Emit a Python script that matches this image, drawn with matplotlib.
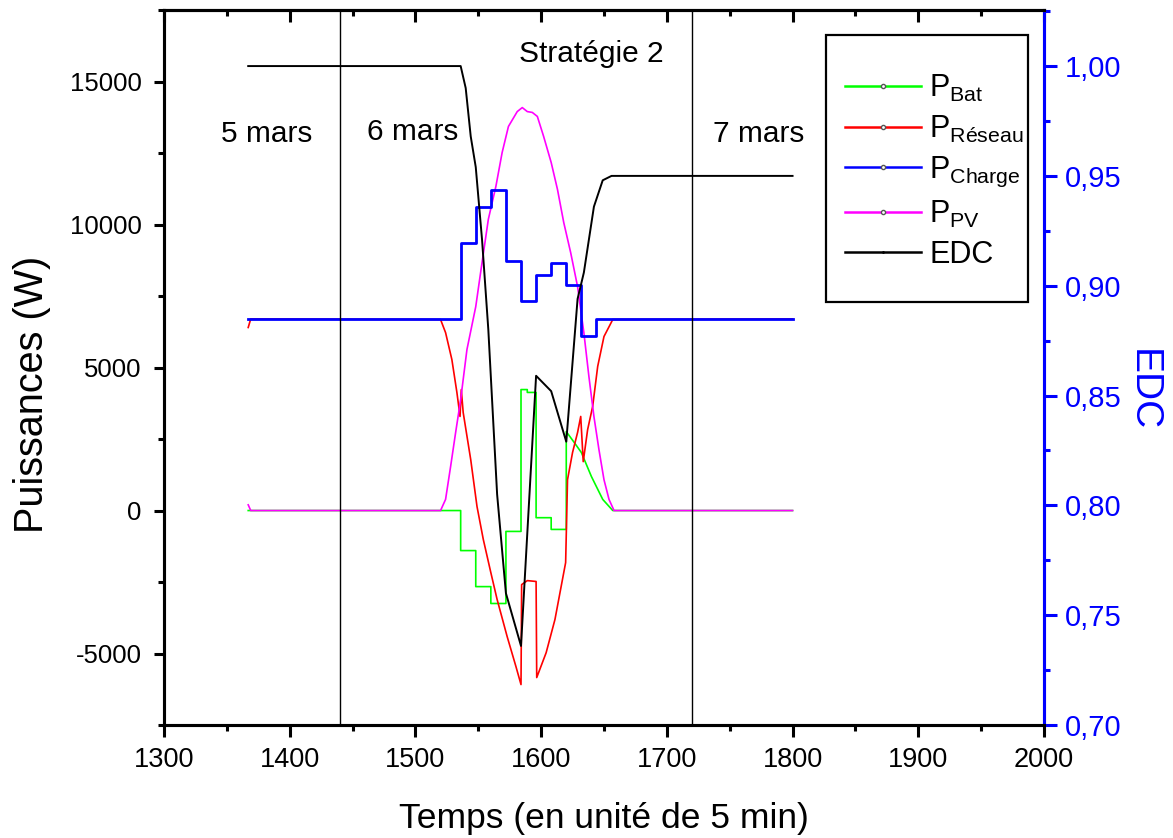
import matplotlib
matplotlib.use("Agg")
import matplotlib.pyplot as plt
from matplotlib.lines import Line2D
from matplotlib.patches import Rectangle
from matplotlib.ticker import MultipleLocator, FuncFormatter

plt.rcParams['font.family'] = ['Liberation Sans', 'DejaVu Sans']
plt.rcParams['mathtext.default'] = 'regular'
plt.rcParams['axes.unicode_minus'] = False

# P_Bat (W)
bat_t = [1367, 1536, 1536, 1548, 1548, 1560, 1560, 1572, 1572, 1584, 1584, 1589, 1589, 1596, 1596,
         1608, 1608, 1620, 1620, 1626, 1632, 1640, 1649, 1657, 1800]
bat = [0, 0, -1400, -1400, -2660, -2660, -3250, -3250, -730, -730, 4230, 4230, 4130, 4130, -250,
       -250, -660, -660, 2760, 2400, 2030, 1190, 390, 0, 0]

# P_Reseau (W)
res_t = [1367, 1369, 1520, 1524, 1529, 1533, 1535.5, 1536.5, 1538, 1544, 1549, 1554, 1560, 1565, 1573,
         1580, 1584, 1584.5, 1589, 1596, 1596.5, 1604, 1611, 1619.5, 1621, 1625, 1629, 1631.5, 1633.5,
         1637, 1641, 1645, 1650, 1657, 1800]
res = [6400, 6700, 6680, 6220, 5280, 4130, 3290, 4230, 3430, 1780, 140, -1010, -2170, -3110, -4410,
       -5460, -6085, -2590, -2450, -2480, -5840, -4970, -3810, -1820, 1080, 2030, 2730, 3290, 1710,
       2830, 3640, 5040, 6085, 6680, 6700]

# P_Charge (W), hourly steps
chg_t = [1367, 1536, 1548, 1560, 1572, 1584, 1596, 1608, 1620, 1632, 1644, 1800]
chg = [6700, 9370, 10630, 11220, 8740, 7310, 8220, 8670, 7900, 6120, 6700, 6700]

# P_PV (W)
pv_t = [1367, 1369, 1520, 1524, 1528, 1532, 1536, 1541, 1548, 1553, 1558, 1564, 1569, 1574, 1581,
        1585, 1589, 1593, 1597, 1602, 1608, 1613, 1618, 1623.5, 1629, 1634, 1638, 1642, 1646, 1650,
        1654, 1658, 1800]
pv = [200, 0, 0, 390, 1540, 2730, 3880, 5630, 7130, 8670, 10180, 11330, 12520, 13430, 13950,
      14090, 13950, 13920, 13780, 13080, 12170, 11230, 10070, 9020, 7830, 6220, 4690, 3290, 2130, 1080,
      390, 0, 0]

# EDC (right axis)
edc_t = [1367, 1536, 1540, 1544, 1548, 1553, 1558, 1565, 1572, 1584, 1596, 1608, 1620, 1629, 1634,
         1642, 1649, 1656, 1800]
edc = [1.0, 1.0, 0.99, 0.968, 0.954, 0.921, 0.88, 0.805, 0.76, 0.736, 0.859, 0.852, 0.829, 0.894, 0.906,
       0.936, 0.948, 0.95, 0.95]

days = [1440, 1720]
day_labels = ["5 mars", "6 mars", "7 mars"]

fig = plt.figure(figsize=(11.73, 8.38), dpi=100)
ax = fig.add_axes([0.1398, 0.1348, 0.7502, 0.8532])
ax2 = ax.twinx()

ax.plot(bat_t, bat, color='#00ff00', lw=1.2)
ax.plot(res_t, res, color='#ff0000', lw=1.2)
ax.plot(pv_t, pv, color='#ff00ff', lw=1.2)
ax.plot(chg_t, chg, color='#0000ff', lw=2.0, drawstyle='steps-post')
ax2.plot(edc_t, edc, color='black', lw=1.4)

for d in days:
    ax.axvline(d, color='black', lw=1.0)

ax.text(1382, 13150, day_labels[0], fontsize=21.5, ha='center', va='center')
ax.text(1498, 13250, day_labels[1], fontsize=21.5, ha='center', va='center')
ax.text(1773, 13150, day_labels[2], fontsize=21.5, ha='center', va='center')
ax.text(1640, 15950, "Stratégie 2", fontsize=21.5, ha='center', va='center')

ax.set_xlim(1300, 2000)
ax.set_ylim(-7500, 17500)
ax2.set_ylim(0.70, 1.0255)

ax.xaxis.set_major_locator(MultipleLocator(100))
ax.xaxis.set_minor_locator(MultipleLocator(50))
ax.yaxis.set_major_locator(MultipleLocator(5000))
ax.yaxis.set_minor_locator(MultipleLocator(2500))
ax2.yaxis.set_major_locator(MultipleLocator(0.05))
ax2.yaxis.set_minor_locator(MultipleLocator(0.025))
ax2.yaxis.set_major_formatter(FuncFormatter(lambda v, p: f"{v:.2f}".replace('.', ',')))

ax.tick_params(axis='x', which='major', direction='out', length=8.6, width=2.2, labelsize=19.5, pad=7)
ax.tick_params(axis='x', which='minor', direction='out', length=4.3, width=2.2)
ax.tick_params(axis='y', which='major', direction='out', length=7, width=2.2, labelsize=18.5, pad=9)
ax.tick_params(axis='y', which='minor', direction='out', length=4.3, width=2.2)
ax2.tick_params(axis='y', which='major', direction='out', length=9, width=2.2, labelsize=21,
                colors='#0000ff', pad=6)
ax2.tick_params(axis='y', which='minor', direction='out', length=4.3, width=2.2, colors='#0000ff')

# inward ticks on the top edge
top = ax.secondary_xaxis('top')
top.xaxis.set_major_locator(MultipleLocator(100))
top.xaxis.set_minor_locator(MultipleLocator(50))
top.tick_params(which='major', direction='in', length=8.6, width=2.2, labeltop=False)
top.tick_params(which='minor', direction='in', length=4, width=2.2)
top.spines['top'].set_linewidth(2.2)

for sp in ax.spines.values():
    sp.set_linewidth(2.2)
for sp in ax2.spines.values():
    sp.set_linewidth(2.2)
ax2.spines['right'].set_color('#0000ff')

ax.set_xlabel("Temps (en unité de 5 min)", fontsize=25.5, labelpad=21)
ax.set_ylabel("Puissances (W)", fontsize=28.5)
ax.yaxis.set_label_coords(-0.128, 0.463)
ax2.set_ylabel("EDC", fontsize=28, color='#0000ff', rotation=270)
ax2.yaxis.set_label_coords(1.133, 0.468)

handles = [
    Line2D([], [], color='#00ff00', lw=1.8, marker='o', ms=3, mfc='white', mec='#555555'),
    Line2D([], [], color='#ff0000', lw=1.8, marker='o', ms=3, mfc='white', mec='#555555'),
    Line2D([], [], color='#0000ff', lw=1.8, marker='o', ms=3, mfc='white', mec='#555555'),
    Line2D([], [], color='#ff00ff', lw=1.8, marker='o', ms=3, mfc='white', mec='#555555'),
    Line2D([], [], color='black', lw=1.8, marker='.', ms=2),
]
labels = [r'$P_{Bat}$', r'$P_{Réseau}$', r'$P_{Charge}$', r'$P_{PV}$', 'EDC']
fig.patches.append(Rectangle((0.7042, 0.6396), 0.1722, 0.3186, transform=fig.transFigure,
                             fill=False, edgecolor='black', lw=1.6))
ax2.legend(handles, labels, loc='upper left', bbox_to_anchor=(0.774, 0.912), fontsize=22,
           frameon=False, borderpad=0, handlelength=2.5, handletextpad=0.25, labelspacing=0.32,
           borderaxespad=0)

fig.savefig("out.png", dpi=100)
